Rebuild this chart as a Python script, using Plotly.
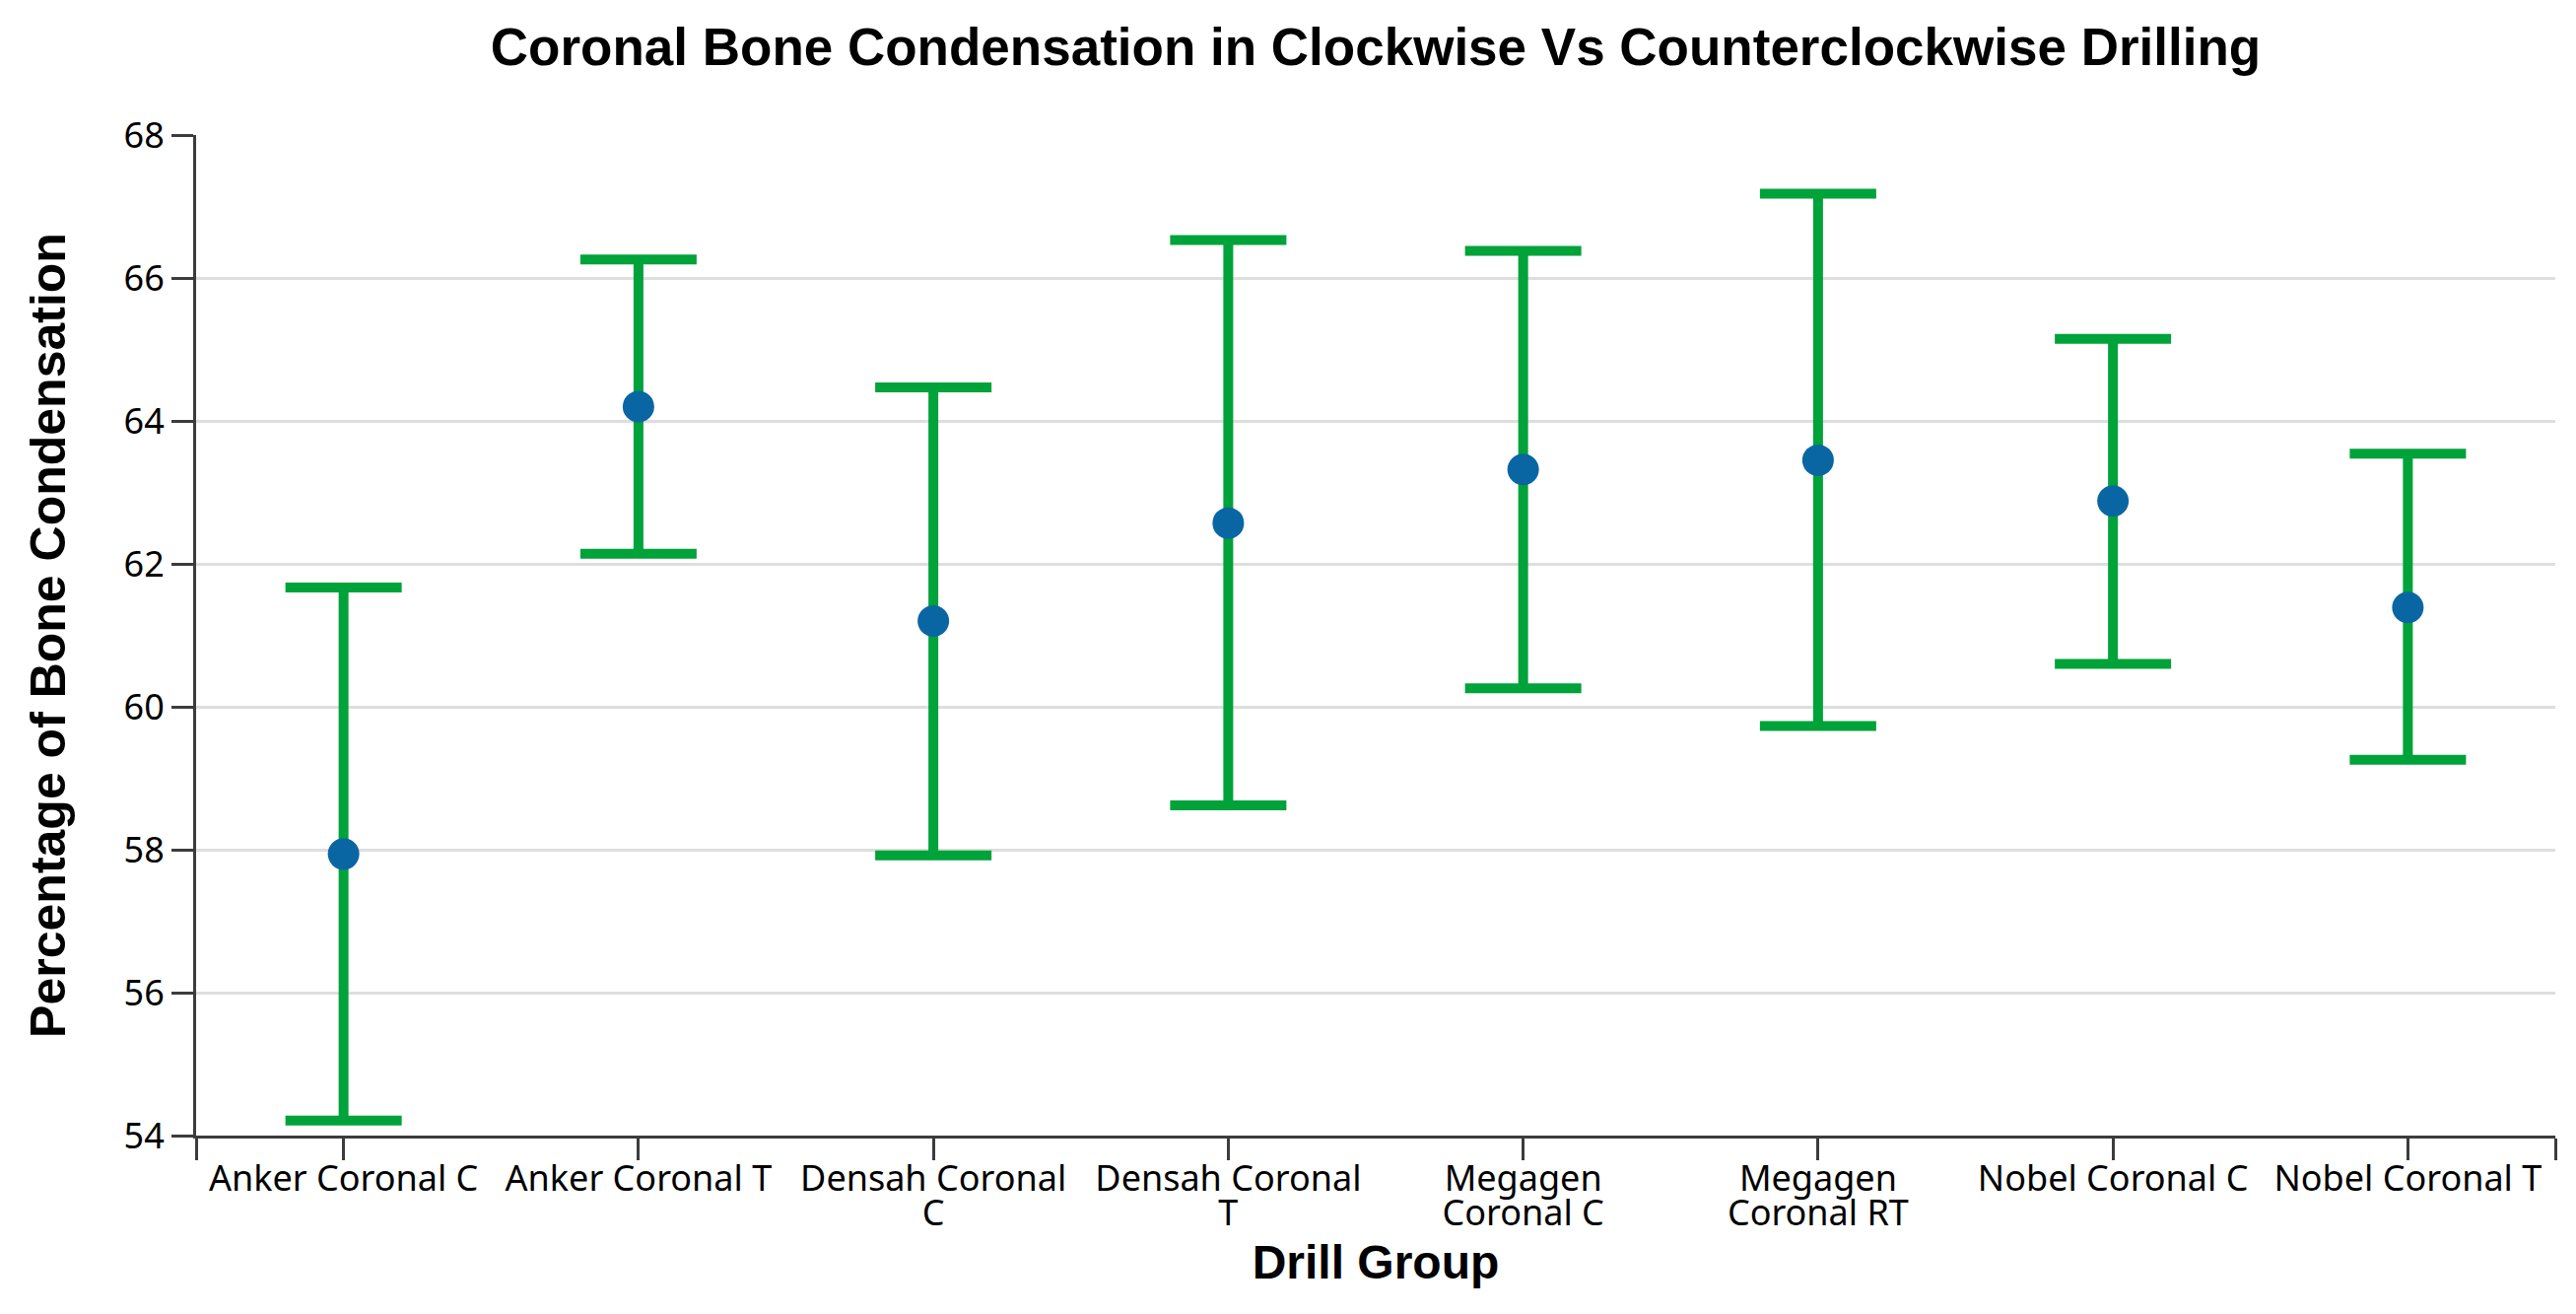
import plotly.graph_objects as go

groups = ["Anker Coronal C", "Anker Coronal T", "Densah Coronal C", "Densah Coronal T",
          "Megagen Coronal C", "Megagen Coronal RT", "Nobel Coronal C", "Nobel Coronal T"]
tick_line1 = ["Anker Coronal C", "Anker Coronal T", "Densah Coronal", "Densah Coronal",
              "Megagen", "Megagen", "Nobel Coronal C", "Nobel Coronal T"]
tick_line2 = ["", "", "C", "T", "Coronal C", "Coronal RT", "", ""]
mean_vals = [57.94, 64.20, 61.20, 62.57, 63.32, 63.45, 62.88, 61.39]
upper_vals = [61.67, 66.26, 64.47, 66.53, 66.38, 67.18, 65.15, 63.54]
lower_vals = [54.21, 62.14, 57.92, 58.62, 60.26, 59.73, 60.60, 59.26]
y_ticks = [54, 56, 58, 60, 62, 64, 66, 68]

x_pos = list(range(len(groups)))
err_plus = [u - m for u, m in zip(upper_vals, mean_vals)]
err_minus = [m - l for m, l in zip(mean_vals, lower_vals)]

GREEN = "#00a23a"
BLUE = "#0a66a3"
AXIS = "#3c3c3c"

fig = go.Figure()
fig.add_trace(go.Scatter(
    x=x_pos, y=mean_vals, mode="markers",
    customdata=groups,
    marker=dict(color=BLUE, size=32, line=dict(width=0)),
    error_y=dict(type="data", symmetric=False, array=err_plus, arrayminus=err_minus,
                 color=GREEN, thickness=10, width=59),
    showlegend=False,
))
# helper (empty) trace so the second-line label axis is rendered
fig.add_trace(go.Scatter(x=[], y=[], xaxis="x2", yaxis="y", showlegend=False, hoverinfo="skip"))

tick_font = dict(family="Noto Sans", size=36, color="#000000")
xr = [-0.5, len(groups) - 0.5]

fig.update_layout(
    width=2614, height=1333,
    margin=dict(l=199, r=21, t=137, b=181, autoexpand=False),
    paper_bgcolor="white", plot_bgcolor="white",
    title=dict(text="Coronal Bone Condensation in Clockwise Vs Counterclockwise Drilling",
               font=dict(family="Liberation Sans", size=53, color="#000000", weight="bold"),
               x=0.5, xref="paper", xanchor="center",
               y=1 - 47 / 1333, yref="container", yanchor="middle"),
    xaxis=dict(
        range=xr,
        tickmode="array",
        tickvals=[xr[0]] + x_pos + [xr[1]],
        ticktext=[""] + tick_line1 + [""],
        tickfont=tick_font, ticklabelstandoff=-12,
        showline=True, linecolor=AXIS, linewidth=3,
        ticks="outside", ticklen=22, tickwidth=3, tickcolor=AXIS,
        showgrid=False, zeroline=False, automargin=False,
    ),
    xaxis2=dict(
        range=xr, overlaying="x", anchor="y", side="bottom",
        tickmode="array", tickvals=x_pos, ticktext=tick_line2,
        tickfont=tick_font,
        showline=False, ticks="outside", ticklen=22, tickwidth=3,
        tickcolor="rgba(0,0,0,0)", ticklabelstandoff=25,
        showgrid=False, zeroline=False, automargin=False,
        title=dict(text="Drill Group",
                   font=dict(family="Liberation Sans", size=48, color="#000000", weight="bold"),
                   standoff=2),
    ),
    yaxis=dict(
        range=[54, 68],
        tickmode="array", tickvals=y_ticks,
        tickfont=tick_font,
        showline=True, linecolor=AXIS, linewidth=3,
        ticks="outside", ticklen=22, tickwidth=3, tickcolor=AXIS,
        showgrid=True, gridcolor="#dedede", gridwidth=3,
        zeroline=False, automargin=False,
        title=dict(text="Percentage of Bone Condensation",
                   font=dict(family="Liberation Sans", size=50, color="#000000", weight="bold"),
                   standoff=44),
    ),
)

fig.write_html("out.html", config={"displayModeBar": False},
               post_script="document.body.style.margin='0';")
